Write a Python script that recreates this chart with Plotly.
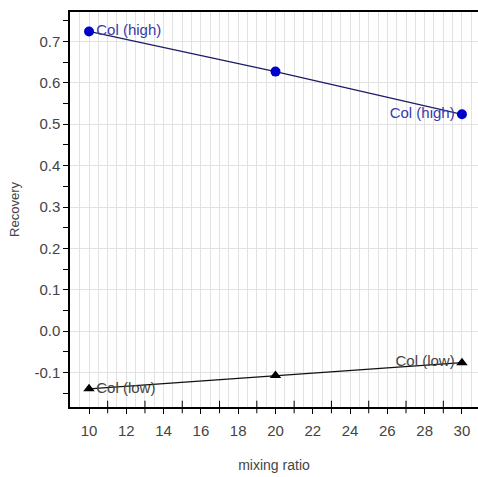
import plotly.graph_objects as go

# Data
mixing_ratio = [10, 20, 30]
col_high = [0.724, 0.627, 0.524]
col_low = [-0.139, -0.107, -0.076]
series_high_name = "Col (high)"
series_low_name = "Col (low)"

y_tick_vals = [-0.1, 0.0, 0.1, 0.2, 0.3, 0.4, 0.5, 0.6, 0.7]
y_tick_text = ["-0.1", "0.0", "0.1", "0.2", "0.3", "0.4", "0.5", "0.6", "0.7"]
x_tick_vals = [10, 12, 14, 16, 18, 20, 22, 24, 26, 28, 30]
x_minor_tick_vals = [11, 13, 15, 17, 19, 21, 23, 25, 27, 29]

y_min, y_max = -0.183, 0.771
x_min, x_max = 8.98, 30.86

font_family = "Liberation Sans, Arial, sans-serif"

fig = go.Figure()

fig.add_trace(go.Scatter(
    x=mixing_ratio, y=col_high, mode="lines+markers+text",
    name=series_high_name,
    text=[series_high_name, "", series_high_name],
    textposition=["middle right", "middle right", "middle left"],
    textfont=dict(color="#3a3aa8", size=15, family=font_family),
    line=dict(color="#1c1c66", width=1.3),
    marker=dict(color="#0000cc", size=10, symbol="circle"),
    cliponaxis=False,
))

fig.add_trace(go.Scatter(
    x=mixing_ratio, y=col_low, mode="lines+markers+text",
    name=series_low_name,
    text=[series_low_name, "", series_low_name],
    textposition=["middle right", "middle right", "middle left"],
    textfont=dict(color="#444444", size=15, family=font_family),
    line=dict(color="#111111", width=1.3),
    marker=dict(color="#000000", size=10, symbol="triangle-up"),
    cliponaxis=False,
))

# minor x ticks crossing the bottom axis
fig.add_trace(go.Scatter(
    x=x_minor_tick_vals, y=[y_min] * len(x_minor_tick_vals),
    mode="markers",
    marker=dict(symbol="line-ns", size=9, color="black", line=dict(width=1, color="black")),
    hoverinfo="skip", cliponaxis=False,
))

fig.update_layout(
    width=478, height=477,
    margin=dict(l=70, r=0, t=12, b=70),
    paper_bgcolor="white", plot_bgcolor="white",
    showlegend=False,
    font=dict(family=font_family, size=14, color="#444444"),
)

fig.update_xaxes(
    range=[x_min, x_max],
    tickvals=x_tick_vals,
    ticks="outside", ticklen=5, tickcolor="#000000", tickwidth=1,
    ticklabelstandoff=4,
    showline=True, linecolor="#000000", linewidth=1.5, mirror=True,
    showgrid=False,
    minor=dict(dtick=0.5, tick0=0, showgrid=True, gridcolor="#e2e2e2", gridwidth=1,
               ticks="", ticklen=0),
    zeroline=False,
    tickfont=dict(size=15, color="#444444"),
    title=dict(text="mixing ratio", font=dict(size=14, color="#444444"), standoff=22),
)

fig.update_yaxes(
    range=[y_min, y_max],
    tickvals=y_tick_vals, ticktext=y_tick_text,
    ticks="outside", ticklen=5, tickcolor="#000000", tickwidth=1,
    showline=True, linecolor="#000000", linewidth=1.5,
    showgrid=True, gridcolor="#e2e2e2", gridwidth=1,
    minor=dict(dtick=0.05, tick0=0, ticks="outside", ticklen=5, tickcolor="#000000", showgrid=False),
    zeroline=False,
    tickfont=dict(size=15, color="#444444"),
    title=dict(text="Recovery", font=dict(size=13, color="#444444"), standoff=12),
)

fig.write_html(
    "out.html",
    config={"displayModeBar": False},
    post_script="document.body.style.margin='0';document.body.style.overflow='hidden';",
)
